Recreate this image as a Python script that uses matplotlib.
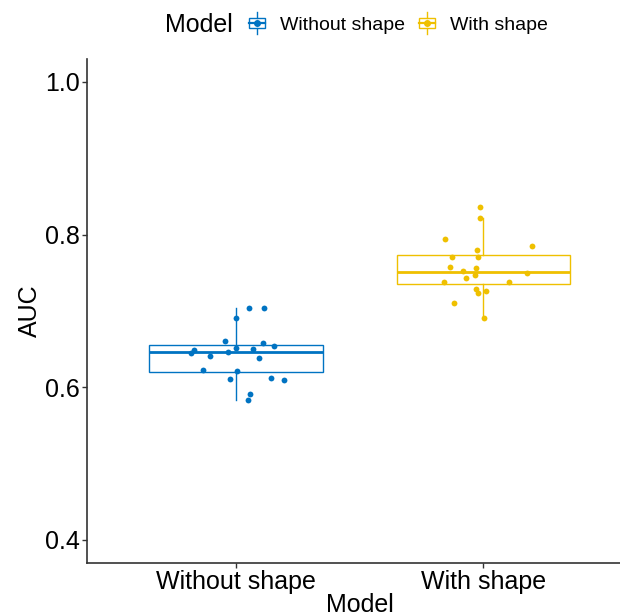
import matplotlib
matplotlib.use('Agg')
import matplotlib.pyplot as plt
import numpy as np
from matplotlib.legend_handler import HandlerBase
from matplotlib.lines import Line2D
from matplotlib.patches import Rectangle

plt.rcParams['font.family'] = ['Liberation Sans', 'DejaVu Sans']

# data
models = ['Without shape', 'With shape']
colors = ['#0073C2', '#EFC000']

auc_without = [0.6905, 0.7043, 0.7035, 0.6609, 0.6583, 0.6544, 0.6513, 0.6500, 0.6487, 0.6448,
               0.6461, 0.6409, 0.6387, 0.6230, 0.6217, 0.6109, 0.6122, 0.6091, 0.5904, 0.5835]
jitter_without = [0.001, 0.053, 0.115, -0.044, 0.111, 0.154, 0.001, 0.070, -0.168, -0.181,
                  -0.032, -0.103, 0.095, -0.134, 0.003, -0.025, 0.143, 0.193, 0.057, 0.049]

auc_with = [0.8361, 0.8217, 0.7935, 0.7852, 0.7796, 0.7704, 0.7704, 0.7570, 0.7561, 0.7517,
            0.7474, 0.7496, 0.7431, 0.7378, 0.7374, 0.7283, 0.7239, 0.7261, 0.7109, 0.6909]
jitter_with = [-0.014, -0.015, -0.155, 0.195, -0.026, -0.127, -0.023, -0.135, -0.030, -0.083,
               -0.033, 0.177, -0.069, -0.161, 0.104, -0.029, -0.022, 0.010, -0.120, 0.003]

y_ticks = [0.4, 0.6, 0.8, 1.0]


class BoxKeyHandler(HandlerBase):
    # little boxplot + point glyph like the ggplot legend key
    def create_artists(self, legend, orig_handle, xdescent, ydescent,
                       width, height, fontsize, trans):
        c = orig_handle.get_color()
        cx = width / 2 - xdescent
        cy = height / 2 - ydescent
        bw, bh, wh = width, 7.2, 15.8
        box = Rectangle((cx - bw / 2, cy - bh / 2), bw, bh, fill=False,
                        edgecolor=c, lw=1.0, transform=trans)
        lo = Line2D([cx, cx], [cy - wh / 2, cy - bh / 2], color=c, lw=1.0, transform=trans)
        hi = Line2D([cx, cx], [cy + bh / 2, cy + wh / 2], color=c, lw=1.0, transform=trans)
        med = Line2D([cx - bw / 2, cx + bw / 2], [cy, cy], color=c, lw=1.6, transform=trans)
        dot = Line2D([cx], [cy], marker='o', ms=4, color=c, lw=0, transform=trans)
        return [lo, hi, box, med, dot]


fig = plt.figure(figsize=(6.2, 6.14), dpi=100)
ax = fig.add_axes([0.1407, 0.0836, 0.8788, 0.8203])

groups = [auc_without, auc_with]
jitters = [jitter_without, jitter_with]
positions = [1, 2]

for pos, vals, jit, col in zip(positions, groups, jitters, colors):
    ax.boxplot([vals], positions=[pos], widths=0.7, showfliers=False, showcaps=False,
               patch_artist=True,
               boxprops=dict(facecolor='white', edgecolor=col, linewidth=1.0),
               whiskerprops=dict(color=col, linewidth=1.0),
               medianprops=dict(color=col, linewidth=2.0))
    ax.plot(pos + np.array(jit), vals, 'o', color=col, ms=4.2, mec='none', zorder=5)

ax.set_xlim(0.4, 2.6)
ax.set_ylim(0.37, 1.03)
ax.set_xticks(positions)
ax.set_xticklabels(models)
ax.set_yticks(y_ticks)
ax.set_yticklabels([f'{t:.1f}' for t in y_ticks])
ax.tick_params(labelsize=18, length=3.5, width=1.0, color='#333333', labelcolor='black', pad=2)
ax.set_ylabel('AUC', fontsize=18, labelpad=2)
ax.set_xlabel('Model', fontsize=18, labelpad=-1)
for s in ['top', 'right']:
    ax.spines[s].set_visible(False)
for s in ['left', 'bottom']:
    ax.spines[s].set_color('#333333')
    ax.spines[s].set_linewidth(1.2)

handles = [Line2D([], [], color=c) for c in colors]
handler = BoxKeyHandler()
fig.legend(handles, models, loc='center left', bbox_to_anchor=(249 / 620, 1 - 25 / 614),
           ncol=2, frameon=False, fontsize=14, handlelength=0.82, handletextpad=0.75,
           columnspacing=0.75, borderpad=0, borderaxespad=0,
           handler_map={h: handler for h in handles})
fig.text(233 / 620, 1 - 25 / 614, 'Model', ha='right', va='center', fontsize=18)

fig.savefig('out.png', dpi=100)
